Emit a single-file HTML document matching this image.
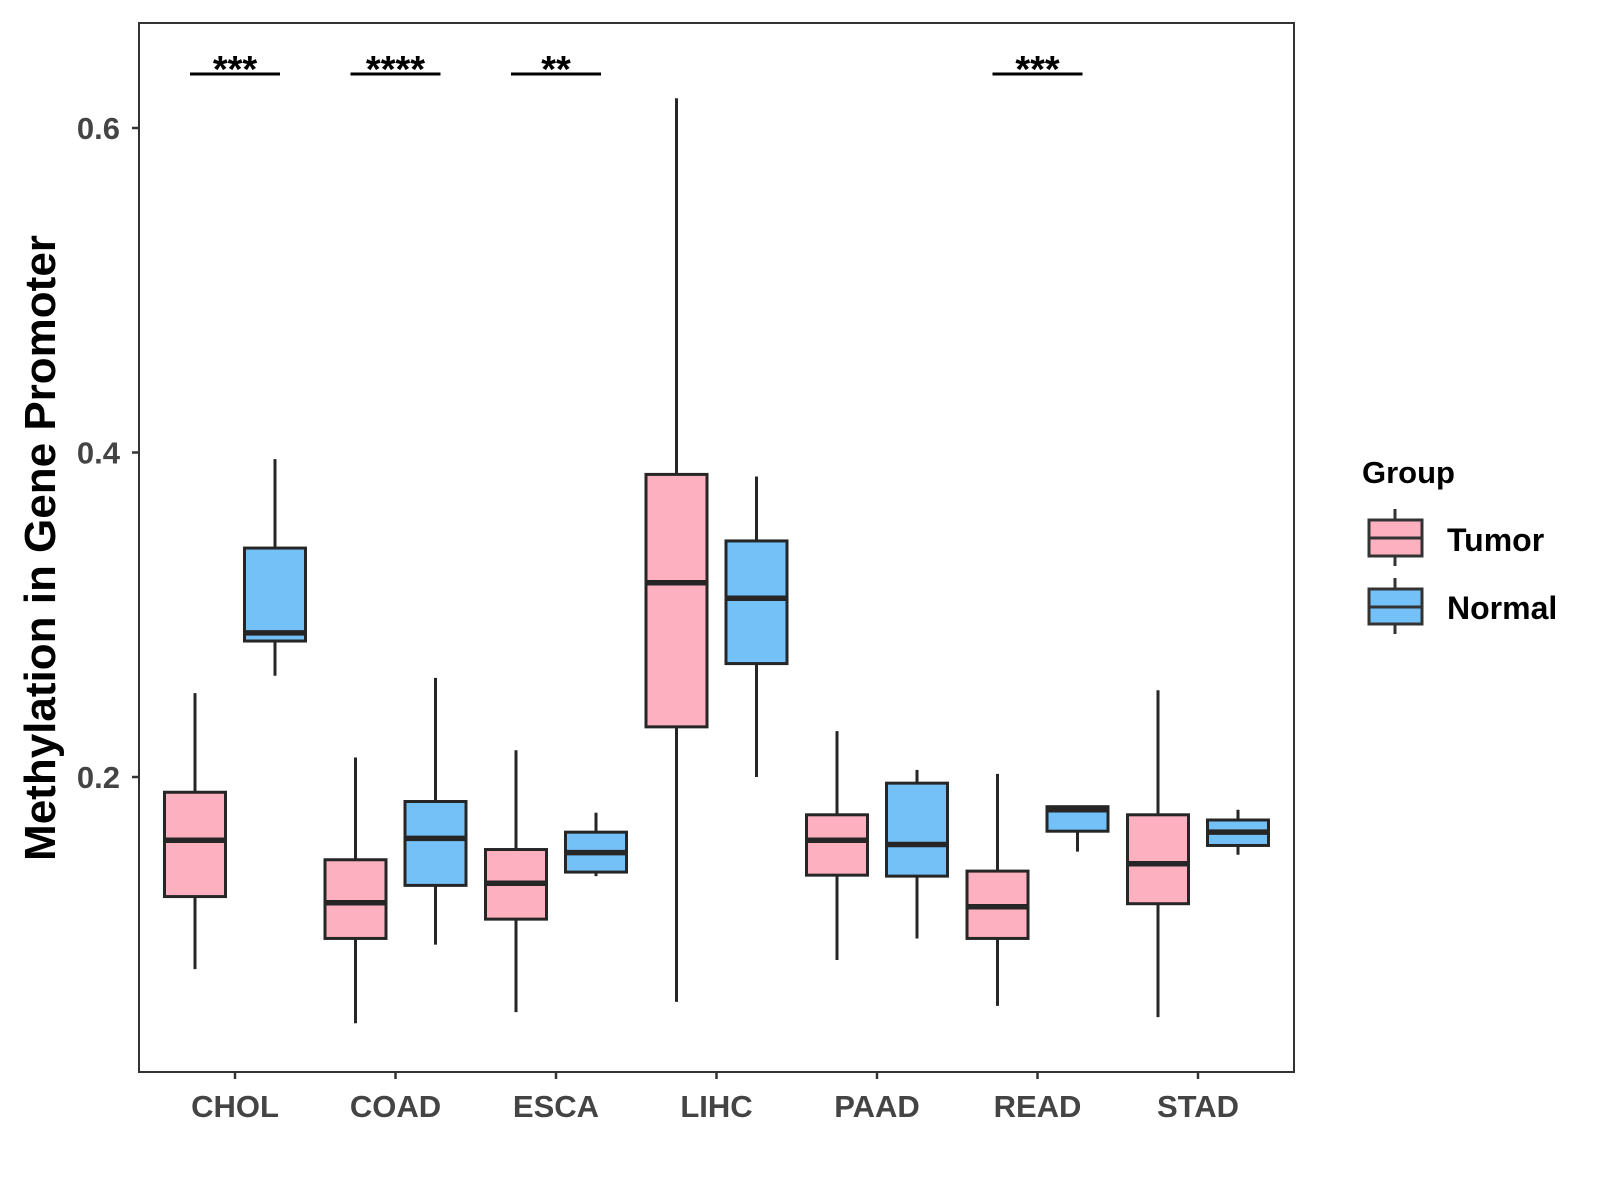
<!DOCTYPE html>
<html><head><meta charset="utf-8"><style>
html,body{margin:0;padding:0;background:#fff;}
svg{display:block;font-family:"Liberation Sans",Arial,sans-serif;font-weight:bold;}
</style></head><body>
<svg id="chart" width="1600" height="1200" viewBox="0 0 1600 1200">
<rect x="0" y="0" width="1600" height="1200" fill="#fff"/>
<g id="plot"></g>
<rect x="139" y="23" width="1155" height="1049" fill="none" stroke="#333" stroke-width="2"/>
<text transform="translate(55,548) rotate(-90)" text-anchor="middle" font-size="44" fill="#000">Methylation in Gene Promoter</text>
<g>
<text x="1362" y="483" font-size="31" fill="#000">Group</text>
<g>
<line x1="1395" y1="509" x2="1395" y2="566" stroke="#333" stroke-width="3"/>
<rect x="1369" y="520" width="53" height="36" fill="#FDB0C0" stroke="#333" stroke-width="3"/>
<line x1="1369" y1="538" x2="1422" y2="538" stroke="#333" stroke-width="3"/>
<text x="1447" y="551" font-size="32" fill="#000">Tumor</text>
</g>
<g>
<line x1="1395" y1="578" x2="1395" y2="634" stroke="#333" stroke-width="3"/>
<rect x="1369" y="589" width="53" height="35" fill="#74C1F8" stroke="#333" stroke-width="3"/>
<line x1="1369" y1="607" x2="1422" y2="607" stroke="#333" stroke-width="3"/>
<text x="1447" y="619" font-size="32" fill="#000">Normal</text>
</g>
</g>
</svg>
<script>
const categories = ["CHOL","COAD","ESCA","LIHC","PAAD","READ","STAD"];
// [lowWhisker, Q1, median, Q3, highWhisker]
const tumorStats = [
 [0.0816,0.1263,0.161,0.1906,0.2517],
 [0.0482,0.1005,0.1225,0.149,0.212],
 [0.0551,0.1124,0.1345,0.1553,0.2165],
 [0.0614,0.2309,0.3197,0.3865,0.6183],
 [0.0872,0.1395,0.161,0.1767,0.2283],
 [0.0589,0.1005,0.120,0.142,0.2019],
 [0.052,0.1219,0.1465,0.1767,0.2535]
];
const normalStats = [
 [0.2624,0.2838,0.2888,0.3411,0.3959],
 [0.0967,0.1332,0.1622,0.1849,0.2611],
 [0.1389,0.1414,0.1534,0.166,0.178],
 [0.200,0.2699,0.3102,0.3455,0.3852],
 [0.1005,0.1389,0.1584,0.1962,0.2044],
 [0.154,0.1666,0.1798,0.1817,0.1824],
 [0.1521,0.1578,0.166,0.1735,0.1798]
];
const significance = ["***","****","**","","","***",""];
const yTicks = [0.2,0.4,0.6];

const NS="http://www.w3.org/2000/svg";
const g=document.getElementById('plot');
function y(v){return 777-(v-0.2)*1622.5;}
function x(i){return 235+i*160.5;}
function mk(tag,attrs){const e=document.createElementNS(NS,tag);for(const k in attrs)e.setAttribute(k,attrs[k]);g.appendChild(e);return e;}

yTicks.forEach(t=>{
  const tk=mk('line',{x1:132,x2:139,y1:y(t),y2:y(t),stroke:'#333','stroke-width':2.5});
  
  
  const tl=mk('text',{x:120,y:y(t)+11,'text-anchor':'end','font-size':31,fill:'#444'});
  tl.textContent=t.toFixed(1);
  
  
});
categories.forEach((c,i)=>{
  const tk=mk('line',{x1:x(i),x2:x(i),y1:1072,y2:1079,stroke:'#333','stroke-width':2.5});
  
  
  const tl=mk('text',{x:x(i),y:1117,'text-anchor':'middle','font-size':31,fill:'#444'});
  tl.textContent=c;
  
  
});
function box(cx,s,fill,name){
  const w=30.5;
  const wh=mk('line',{x1:cx,x2:cx,y1:y(s[0]),y2:y(s[4]),stroke:'#262626','stroke-width':3});
  
  
  const r=mk('rect',{x:cx-w,y:y(s[3]),width:2*w,height:y(s[1])-y(s[3]),fill:fill,stroke:'#262626','stroke-width':3});
  
  
  const m=mk('line',{x1:cx-w,x2:cx+w,y1:y(s[2]),y2:y(s[2]),stroke:'#262626','stroke-width':5.5});
  
  
}
categories.forEach((c,i)=>{
  box(x(i)-40,tumorStats[i],'#FDB0C0','tumor-'+c.toLowerCase());
  box(x(i)+40,normalStats[i],'#74C1F8','normal-'+c.toLowerCase());
  if(significance[i]){
    const b=mk('line',{x1:x(i)-45,x2:x(i)+45,y1:74,y2:74,stroke:'#000','stroke-width':3});
    
    
    const t=mk('text',{x:x(i),y:82,'text-anchor':'middle','font-size':38,fill:'#000'});
    t.textContent=significance[i];
    
    
  }
});
</script>
</body></html>
